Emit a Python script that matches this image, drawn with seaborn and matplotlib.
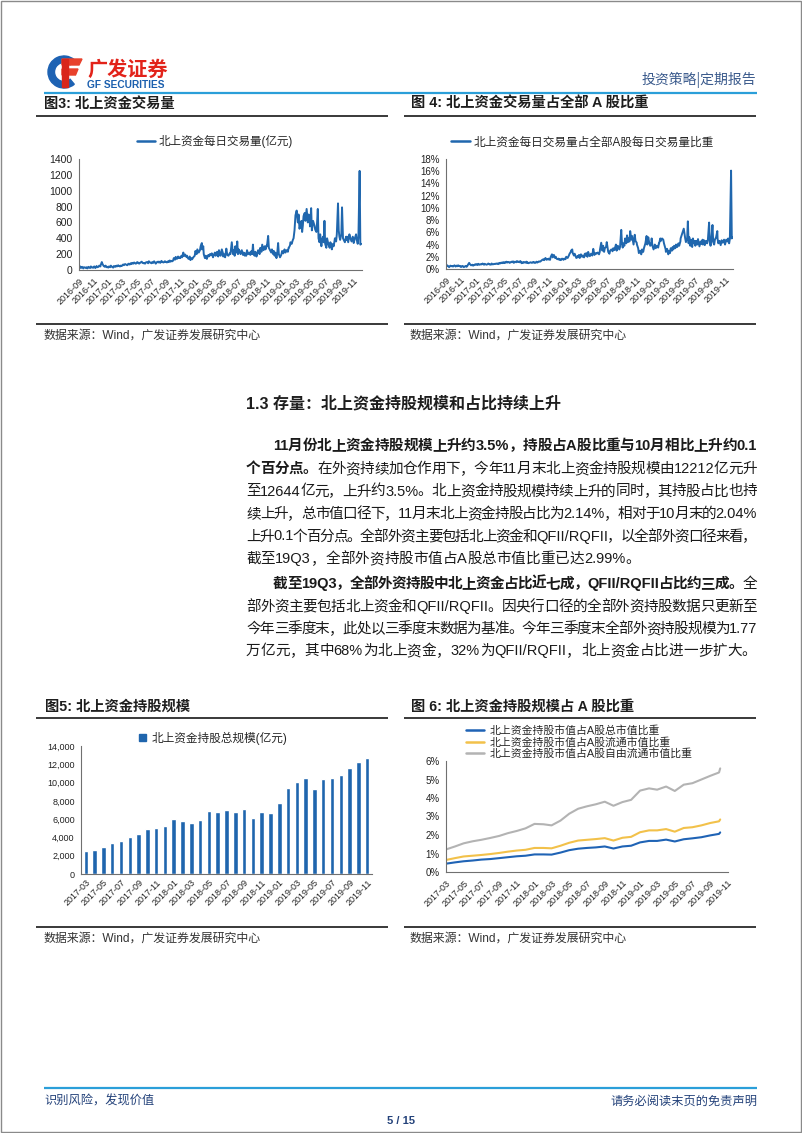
import numpy as np
import pandas as pd
import matplotlib
matplotlib.use("Agg")
import matplotlib.pyplot as plt
import matplotlib.dates as mdates
import matplotlib.ticker as mticker
from matplotlib.patches import Rectangle, Wedge, Polygon, Patch
from matplotlib.lines import Line2D
import seaborn as sns

W, H = 802, 1133
sns.set_theme(style="white")
plt.rcParams["font.family"] = ["Liberation Sans", "Noto Sans CJK SC", "DejaVu Sans"]
plt.rcParams["axes.unicode_minus"] = False

# ---------------- data ----------------
# Fig 3: Northbound daily turnover (100m CNY), ~8 readings per month
months_34 = ["2016-09", "2016-10", "2016-11", "2016-12",
             "2017-01", "2017-02", "2017-03", "2017-04", "2017-05", "2017-06",
             "2017-07", "2017-08", "2017-09", "2017-10", "2017-11", "2017-12",
             "2018-01", "2018-02", "2018-03", "2018-04", "2018-05", "2018-06",
             "2018-07", "2018-08", "2018-09", "2018-10", "2018-11", "2018-12",
             "2019-01", "2019-02", "2019-03", "2019-04", "2019-05", "2019-06",
             "2019-07", "2019-08", "2019-09", "2019-10", "2019-11", "2019-12"]
turnover = [
    [30, 45, 25, 40, 20, 35, 30, 25],
    [35, 20, 40, 30, 25, 45, 30, 35],
    [30, 45, 25, 50, 35, 40, 55, 45],
    [60, 100, 75, 50, 40, 55, 35, 40],
    [30, 45, 35, 55, 40, 30, 50, 45],
    [40, 55, 45, 60, 50, 45, 55, 50],
    [55, 70, 60, 75, 65, 60, 80, 70],
    [70, 85, 75, 90, 80, 95, 85, 80],
    [85, 100, 90, 80, 95, 105, 90, 85],
    [90, 80, 95, 100, 85, 110, 95, 90],
    [85, 100, 90, 110, 95, 80, 100, 105],
    [95, 105, 90, 115, 100, 95, 110, 100],
    [105, 95, 110, 100, 120, 105, 115, 110],
    [120, 150, 130, 165, 140, 170, 150, 160],
    [150, 180, 160, 220, 175, 195, 165, 180],
    [160, 140, 170, 125, 150, 135, 160, 170],
    [180, 240, 200, 260, 220, 250, 300, 340],
    [260, 300, 200, 150, 180, 140, 175, 190],
    [170, 200, 185, 210, 160, 190, 220, 180],
    [190, 230, 170, 250, 200, 180, 260, 210],
    [170, 200, 160, 270, 190, 180, 210, 200],
    [220, 350, 200, 250, 180, 300, 220, 360],
    [200, 260, 230, 200, 250, 190, 220, 180],
    [210, 180, 250, 200, 220, 190, 240, 200],
    [320, 200, 180, 230, 170, 210, 250, 220],
    [200, 280, 230, 320, 250, 300, 260, 310],
    [300, 430, 280, 250, 220, 260, 200, 240],
    [180, 220, 150, 200, 340, 200, 160, 190],
    [200, 240, 210, 260, 220, 250, 230, 280],
    [280, 310, 350, 330, 380, 400, 500, 650],
    [690, 750, 600, 700, 520, 560, 620, 480],
    [560, 680, 720, 620, 770, 600, 700, 650],
    [550, 780, 500, 620, 560, 510, 480, 600],
    [770, 400, 350, 450, 300, 380, 420, 350],
    [620, 330, 280, 400, 320, 280, 350, 300],
    [260, 330, 300, 400, 360, 450, 840, 500],
    [420, 380, 450, 790, 400, 380, 350, 420],
    [380, 420, 350, 450, 400, 360, 420, 390],
    [340, 400, 450, 380, 330, 420, 1250, 320],
    [330],
]
# Fig 4: share of northbound turnover in all A-share turnover (%)
turnover_share = [
    [0.4, 0.6, 0.5, 0.3, 0.55, 0.45, 0.5, 0.4],
    [0.5, 0.6, 0.4, 0.55, 0.45, 0.6, 0.5, 0.4],
    [0.45, 0.35, 0.5, 0.3, 0.4, 0.5, 0.35, 0.6],
    [0.7, 1.0, 0.8, 0.6, 0.7, 0.55, 0.65, 0.75],
    [0.7, 0.8, 0.65, 0.85, 0.7, 0.8, 0.75, 0.9],
    [0.8, 0.7, 0.85, 0.75, 0.7, 0.8, 0.9, 0.75],
    [0.8, 0.7, 0.9, 0.75, 0.85, 0.8, 0.9, 0.85],
    [0.9, 0.8, 1.0, 0.9, 1.05, 0.95, 1.1, 1.0],
    [1.1, 1.0, 1.2, 1.05, 1.15, 1.0, 1.1, 1.2],
    [1.1, 1.25, 1.0, 1.2, 1.1, 1.3, 1.15, 1.2],
    [1.1, 1.3, 0.95, 1.1, 1.0, 1.15, 1.05, 1.2],
    [1.0, 1.1, 0.95, 1.05, 1.1, 1.0, 1.15, 1.05],
    [1.1, 1.0, 1.2, 1.05, 1.15, 1.25, 1.2, 1.3],
    [1.4, 1.5, 1.6, 1.45, 1.8, 1.5, 1.65, 1.55],
    [1.7, 1.5, 2.0, 2.4, 1.9, 2.3, 1.8, 2.0],
    [1.8, 1.6, 1.7, 1.5, 1.6, 1.45, 1.7, 1.6],
    [1.5, 1.7, 1.6, 2.0, 1.8, 2.2, 2.5, 2.8],
    [3.0, 3.2, 2.6, 2.2, 2.5, 2.0, 1.8, 2.1],
    [1.9, 2.3, 1.8, 2.4, 2.0, 2.2, 1.9, 2.5],
    [2.2, 2.6, 2.0, 2.8, 2.3, 2.1, 2.5, 2.2],
    [2.4, 3.3, 2.3, 2.6, 2.5, 2.7, 2.4, 2.8],
    [3.2, 4.3, 3.0, 3.8, 2.8, 3.4, 3.6, 4.4],
    [3.6, 2.8, 2.5, 3.0, 3.2, 2.9, 3.4, 3.1],
    [3.3, 4.0, 3.0, 3.8, 3.2, 3.6, 6.4, 4.2],
    [3.5, 4.2, 3.8, 5.0, 4.2, 5.5, 4.4, 5.0],
    [4.5, 6.2, 4.8, 5.4, 4.0, 5.6, 4.6, 4.3],
    [4.0, 3.4, 2.6, 3.0, 2.4, 3.2, 2.8, 3.4],
    [3.8, 4.2, 5.4, 4.0, 5.2, 4.5, 3.8, 4.4],
    [5.0, 3.8, 3.2, 4.0, 3.4, 3.8, 3.5, 4.2],
    [4.2, 5.0, 4.6, 5.0, 4.8, 4.2, 3.6, 3.2],
    [2.8, 3.3, 2.4, 3.0, 2.6, 3.4, 3.0, 3.6],
    [3.2, 3.8, 3.4, 4.0, 3.6, 4.2, 3.8, 4.5],
    [5.0, 5.6, 6.0, 6.6, 5.0, 4.4, 5.0, 7.8],
    [4.2, 5.2, 3.8, 4.8, 3.6, 5.0, 4.2, 4.6],
    [3.8, 4.6, 4.0, 4.9, 3.7, 4.5, 4.1, 4.8],
    [4.0, 4.7, 3.9, 4.6, 4.2, 4.8, 7.6, 4.4],
    [3.8, 4.6, 7.2, 4.4, 4.0, 4.8, 5.2, 6.2],
    [5.0, 4.2, 4.6, 3.9, 4.7, 4.3, 4.8, 4.4],
    [4.0, 4.8, 4.5, 5.0, 4.2, 4.9, 16.1, 5.0],
    [5.2],
]
# Fig 5: northbound holdings (100m CNY), month-end
months_5 = ["2017-03", "2017-04", "2017-05", "2017-06", "2017-07", "2017-08",
            "2017-09", "2017-10", "2017-11", "2017-12", "2018-01", "2018-02",
            "2018-03", "2018-04", "2018-05", "2018-06", "2018-07", "2018-08",
            "2018-09", "2018-10", "2018-11", "2018-12", "2019-01", "2019-02",
            "2019-03", "2019-04", "2019-05", "2019-06", "2019-07", "2019-08",
            "2019-09", "2019-10", "2019-11"]
holdings = [2500, 2650, 2950, 3400, 3600, 4050, 4350, 4900, 5000, 5200,
            6000, 5750, 5600, 5900, 6850, 6800, 6950, 6800, 7150, 6150,
            6750, 6650, 7800, 9450, 10050, 10450, 9250, 10350, 10450, 10850,
            11550, 12212, 12644]
# Fig 6: holdings share (%)
dates_6 = ["2017-03-01", "2017-04-01", "2017-05-01", "2017-06-01", "2017-07-01",
           "2017-08-01", "2017-09-01", "2017-10-01", "2017-11-01", "2017-12-01",
           "2018-01-01", "2018-02-01", "2018-03-01", "2018-04-01", "2018-05-01",
           "2018-06-01", "2018-07-01", "2018-08-01", "2018-09-01", "2018-10-01",
           "2018-11-01", "2018-12-01", "2019-01-01", "2019-02-01", "2019-03-01",
           "2019-04-01", "2019-05-01", "2019-06-01", "2019-07-01", "2019-08-01",
           "2019-09-01", "2019-10-01", "2019-10-05"]
share_total = [0.45, 0.52, 0.58, 0.62, 0.67, 0.70, 0.75, 0.80, 0.85, 0.88,
               0.95, 0.95, 0.94, 1.05, 1.18, 1.26, 1.30, 1.33, 1.38, 1.27,
               1.38, 1.42, 1.60, 1.68, 1.68, 1.75, 1.65, 1.77, 1.82, 1.88,
               1.98, 2.06, 2.14]
share_float = [0.65, 0.75, 0.84, 0.88, 0.92, 0.97, 1.03, 1.10, 1.16, 1.20,
               1.30, 1.30, 1.28, 1.42, 1.58, 1.70, 1.74, 1.78, 1.83, 1.70,
               1.85, 1.90, 2.15, 2.25, 2.25, 2.32, 2.18, 2.38, 2.42, 2.52,
               2.65, 2.74, 2.84]
share_free = [1.22, 1.38, 1.55, 1.66, 1.74, 1.84, 1.95, 2.10, 2.22, 2.36,
              2.60, 2.58, 2.52, 2.78, 3.15, 3.42, 3.55, 3.66, 3.80, 3.58,
              3.78, 3.90, 4.40, 4.52, 4.45, 4.62, 4.38, 4.72, 4.80, 5.00,
              5.20, 5.38, 5.60]
labels_6 = ["北上资金持股市值占A股总市值比重",
            "北上资金持股市值占A股流通市值比重",
            "北上资金持股市值占A股自由流通市值比重"]


def month_series(months, rows):
    ds, vs = [], []
    for m, row in zip(months, rows):
        start = pd.Timestamp(m + "-01")
        end = start + pd.offsets.MonthEnd(0)
        if m == "2019-12":
            end = pd.Timestamp("2019-12-03")
        bd = pd.bdate_range(start, end)
        idx = np.linspace(0, len(bd) - 1, len(row)).round().astype(int)
        ds.extend(bd[idx])
        vs.extend(row)
    return pd.DataFrame({"date": ds, "value": vs})


df3 = month_series(months_34, turnover)
df4 = month_series(months_34, turnover_share)
df6 = pd.DataFrame({
    "date": pd.to_datetime(dates_6 * 3),
    "value": share_total + share_float + share_free,
    "series": [labels_6[0]] * len(dates_6) + [labels_6[1]] * len(dates_6) + [labels_6[2]] * len(dates_6),
})

# ---------------- figure ----------------
fig = plt.figure(figsize=(W / 100, H / 100), dpi=100, facecolor="white")
page = fig.add_axes([0, 0, 1, 1])
page.set_xlim(0, W)
page.set_ylim(H, 0)
page.axis("off")


def rect(x0, y0, x1, y1):
    return [x0 / W, 1 - y1 / H, (x1 - x0) / W, (y1 - y0) / H]


BLUE_RULE = "#2b9fd9"
DARK = "#1e1e1e"
NAVY = "#24427a"
LINEBLUE = "#2067ae"

# page border
page.add_patch(Rectangle((0.5, 0.5), W - 1.5, H - 1.5, fill=False, ec="#8a8a8a", lw=1))

# logo
page.add_patch(Wedge((64, 72), 16, 50, 310, width=6.5, color="#1d62b3"))
page.add_patch(Polygon([(62, 59), (82, 59), (79, 65), (62, 65)], color="#e8412c"))
page.add_patch(Polygon([(62, 69), (78, 69), (75.5, 75), (62, 75)], color="#e8412c"))
page.add_patch(Polygon([(62, 59), (68, 59), (68, 87), (62, 87)], color="#d9261c"))
page.text(87, 69, "广发证券", fontsize=14.5, fontweight="bold", color="#e2231a",
          ha="left", va="center", family=["Noto Sans CJK SC"])
page.text(87, 85, "GF SECURITIES", fontsize=7.3, fontweight="bold", color="#1b5fae",
          ha="left", va="center")
page.text(756, 80, "投资策略|定期报告", fontsize=10, color="#3a5a8c", ha="right", va="center",
          family=["Noto Sans CJK SC"])
page.plot([44, 757], [92.5, 92.5], color=BLUE_RULE, lw=1.6, solid_capstyle="butt")


def fig_title(x, y, s):
    page.text(x, y, s, fontsize=10.3, fontweight="bold", color=DARK, ha="left", va="center")


def rule(x0, x1, y, lw=1.3, color="#2a2a2a"):
    page.plot([x0, x1], [y, y], color=color, lw=lw, solid_capstyle="butt")


def source(x, y):
    page.text(x, y, "数据来源：Wind，广发证券发展研究中心", fontsize=8.6, color="#333333",
              ha="left", va="center")


fig_title(44, 104, "图3: 北上资金交易量")
fig_title(411, 104, "图 4: 北上资金交易量占全部 A 股比重")
rule(36, 388, 116)
rule(404, 756, 116)
rule(36, 388, 324)
rule(404, 756, 324)
source(44, 336)
source(410, 336)

fig_title(45, 707, "图5: 北上资金持股规模")
fig_title(411, 707, "图 6: 北上资金持股规模占 A 股比重")
rule(36, 388, 718)
rule(404, 756, 718)
rule(36, 388, 927)
rule(404, 756, 927)
source(44, 939)
source(410, 939)

# section heading
page.text(246, 404, "1.3 存量：北上资金持股规模和占比持续上升", fontsize=11.5, fontweight="bold",
          color=DARK, ha="left", va="center")

# footer
page.plot([44, 757], [1088, 1088], color=BLUE_RULE, lw=1.6, solid_capstyle="butt")
page.text(44, 1101, "识别风险，发现价值", fontsize=8.8, color=NAVY, ha="left", va="center",
          family=["Noto Sans CJK SC"])
page.text(757, 1101, "请务必阅读末页的免责声明", fontsize=8.8, color=NAVY, ha="right", va="center",
          family=["Noto Sans CJK SC"])
page.text(401, 1121, "5 / 15", fontsize=8, fontweight="bold", color=NAVY, ha="center", va="center")

# ---------------- body text with justification ----------------
renderer = fig.canvas.get_renderer()
_cache = {}


def tw(s, size, weight):
    key = (s, size, weight)
    if key not in _cache:
        t = page.text(0, 0, s, fontsize=size, fontweight=weight)
        _cache[key] = t.get_window_extent(renderer).width
        t.remove()
    return _cache[key]


def advance(s, size, weight):
    # advance width of a string, measured between two bar glyphs
    return tw("|" + s + "|", size, weight) - tw("||", size, weight)


BODY = 10.5
RIGHT = 757


def tokens(segs):
    # CJK characters are separate tokens; runs of ASCII stay together
    out = []
    for s, w in segs:
        for ch in s:
            if ord(ch) < 128 and out and out[-1][2] and out[-1][1] == w:
                out[-1][0] += ch
            else:
                out.append([ch, w, ord(ch) < 128])
    return out


def body_line(segs, x0, yc, justify=True):
    toks = tokens(segs)
    adv = [advance(t, BODY, w) for t, w, _ in toks]
    total = sum(adv)
    gap = (RIGHT - x0 - total) / (len(toks) - 1) if justify else 0.0
    x = x0
    for (t, w, _), a in zip(toks, adv):
        page.text(x, yc + 5, t, fontsize=BODY, fontweight=w, color="#1a1a1a",
                  ha="left", va="baseline")
        x += a + gap


B, N = "bold", "normal"
body_line([("11月份北上资金持股规模上升约3.5%，持股占A股比重与10月相比上升约0.1", B)], 273, 445)
body_line([("个百分点。", B), ("在外资持续加仓作用下，今年11月末北上资金持股规模由12212亿元升", N)], 246, 468)
body_line([("至12644亿元，上升约3.5%。北上资金持股规模持续上升的同时，其持股占比也持", N)], 246, 490.5)
body_line([("续上升，总市值口径下，11月末北上资金持股占比为2.14%，相对于10月末的2.04%", N)], 246, 513)
body_line([("上升0.1个百分点。全部外资主要包括北上资金和QFII/RQFII，以全部外资口径来看，", N)], 246, 535.5)
body_line([("截至19Q3，全部外资持股市值占A股总市值比重已达2.99%。", N)], 246, 558, justify=False)
body_line([("截至19Q3，全部外资持股中北上资金占比近七成，QFII/RQFII占比约三成。", B), ("全", N)], 273, 583)
body_line([("部外资主要包括北上资金和QFII/RQFII。因央行口径的全部外资持股数据只更新至", N)], 246, 605.5)
body_line([("今年三季度末，此处以三季度末数据为基准。今年三季度末全部外资持股规模为1.77", N)], 246, 628)
body_line([("万亿元，其中68%为北上资金，32%为QFII/RQFII，北上资金占比进一步扩大。", N)], 246, 650, justify=False)


# ---------------- charts ----------------
def style(ax, ysize=7):
    sns.despine(ax=ax)
    for s in ["left", "bottom"]:
        ax.spines[s].set_color("#707070")
        ax.spines[s].set_linewidth(0.8)
    ax.tick_params(axis="both", which="major", direction="out", length=3, width=0.8,
                   color="#707070", labelsize=ysize, labelcolor="#222222", pad=1.5)
    ax.tick_params(axis="x", labelsize=6.5)
    ax.set_xlabel("")
    ax.set_ylabel("")
    ax.set_facecolor("none")
    ax.grid(False)


def date_axis(ax, start, end):
    ax.set_xlim(pd.Timestamp(start), pd.Timestamp(end))
    ax.xaxis.set_major_locator(mdates.MonthLocator(bymonth=(1, 3, 5, 7, 9, 11)))
    ax.xaxis.set_major_formatter(mdates.DateFormatter("%Y-%m"))
    for lab in ax.get_xticklabels():
        lab.set_rotation(45)
        lab.set_ha("right")
        lab.set_va("top")
        lab.set_rotation_mode("anchor")


# Fig 3
ax3 = fig.add_axes(rect(79, 159, 362, 270))
sns.lineplot(data=df3, x="date", y="value", ax=ax3, color=LINEBLUE, lw=1.4, legend=False)
ax3.set_ylim(0, 1400)
ax3.set_yticks(range(0, 1401, 200))
style(ax3, 7.5)
date_axis(ax3, "2016-09-01", "2019-12-06")
ax3.legend([Line2D([0], [0], color=LINEBLUE, lw=1.8)], ["北上资金每日交易量(亿元)"],
           loc="center left", bbox_to_anchor=((137 - 79) / 283, (270 - 142) / 111),
           frameon=False, fontsize=8.3, handlelength=1.6, handletextpad=0.3,
           borderpad=0, borderaxespad=0)

# Fig 4
ax4 = fig.add_axes(rect(446, 159, 733, 269))
sns.lineplot(data=df4, x="date", y="value", ax=ax4, color=LINEBLUE, lw=1.4, legend=False)
ax4.set_ylim(0, 18)
ax4.set_yticks(range(0, 19, 2))
ax4.yaxis.set_major_formatter(mticker.FuncFormatter(lambda v, p: f"{v:.0f}%"))
style(ax4, 7)
date_axis(ax4, "2016-09-01", "2019-12-04")
ax4.legend([Line2D([0], [0], color=LINEBLUE, lw=1.8)], ["北上资金每日交易量占全部A股每日交易量比重"],
           loc="center left", bbox_to_anchor=((451 - 446) / 287, (269 - 142.5) / 110),
           frameon=False, fontsize=8.4, handlelength=1.6, handletextpad=0.3,
           borderpad=0, borderaxespad=0)

# Fig 5
BARC = "#1f65ad"
ax5 = fig.add_axes(rect(81, 746, 372, 874))
sns.barplot(x=months_5, y=holdings, color=BARC, saturation=1, width=0.52, ax=ax5)
ax5.set_xlim(-0.55, len(months_5) - 0.45)
ax5.set_ylim(0, 14000)
ax5.set_yticks(range(0, 14001, 2000))
ax5.yaxis.set_major_formatter(mticker.FuncFormatter(lambda v, p: f"{v:,.0f}"))
style(ax5, 6.5)
ax5.set_xticks(range(0, len(months_5), 2))
ax5.set_xticklabels(months_5[::2], rotation=45, ha="right", va="top", rotation_mode="anchor")
ax5.tick_params(axis="x", length=0, pad=3)
ax5.legend([Patch(color=BARC)], ["北上资金持股总规模(亿元)"],
           loc="center left", bbox_to_anchor=((139 - 81) / 291, (874 - 738) / 128),
           frameon=False, fontsize=8.4, handlelength=0.6, handleheight=0.6, handletextpad=0.5,
           borderpad=0, borderaxespad=0)

# Fig 6
pal6 = {labels_6[0]: "#1f63b5", labels_6[1]: "#f2c14a", labels_6[2]: "#b3b3b3"}
ax6 = fig.add_axes(rect(446, 761, 728, 872))
sns.lineplot(data=df6, x="date", y="value", hue="series", hue_order=labels_6,
             palette=pal6, ax=ax6, lw=1.5, legend=False)
ax6.set_ylim(0, 6)
ax6.set_yticks(range(0, 7))
ax6.yaxis.set_major_formatter(mticker.FuncFormatter(lambda v, p: f"{v:.0f}%"))
style(ax6, 7)
date_axis(ax6, "2017-03-01", "2019-11-01")
ax6.legend([Line2D([0], [0], color=pal6[l], lw=1.8) for l in labels_6], labels_6,
           loc="upper left", bbox_to_anchor=((466 - 446) / 282, (872 - 725) / 111),
           frameon=False, fontsize=7.8, handlelength=1.7, handletextpad=0.5,
           labelspacing=0.1, borderpad=0, borderaxespad=0)

fig.savefig("out.png", dpi=100, facecolor="white")
